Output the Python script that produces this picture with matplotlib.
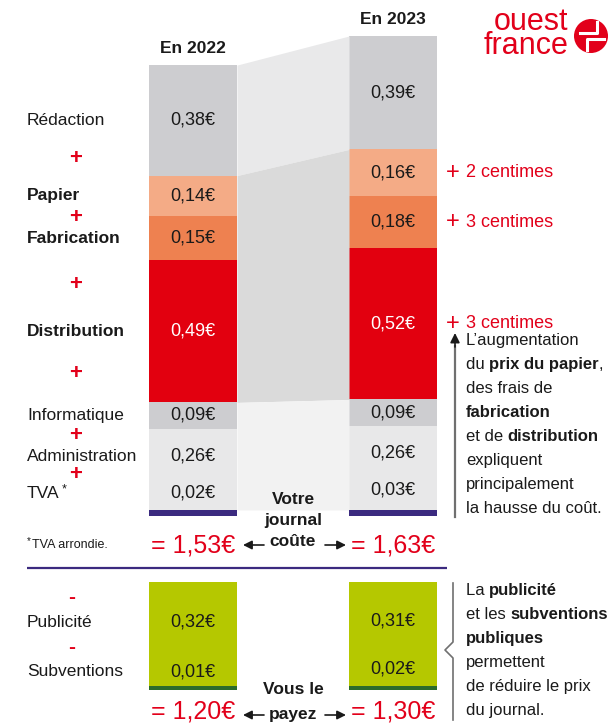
import matplotlib

matplotlib.use("Agg")

import matplotlib.pyplot as plt  # noqa: E402
import numpy as np  # noqa: E402
from matplotlib.patches import Circle  # noqa: E402
from matplotlib.transforms import blended_transform_factory  # noqa: E402

plt.rcParams["font.family"] = ["Liberation Sans", "DejaVu Sans"]

# --- data (top of the stack first) ---
YEARS = ["En 2022", "En 2023"]
POSTES = ["Rédaction", "Papier", "Fabrication", "Distribution",
          "Informatique", "Administration", "TVA"]
COUT_2022 = [0.38, 0.14, 0.15, 0.49, 0.09, 0.26, 0.02]
COUT_2023 = [0.39, 0.16, 0.18, 0.52, 0.09, 0.26, 0.03]
RECETTES = ["Publicité", "Subventions"]
REC_2022 = [0.32, 0.01]
REC_2023 = [0.31, 0.02]
HAUSSE_POSTES = ["Papier", "Fabrication", "Distribution"]

# --- palette ---
RED = "#e2001a"
INK = "#1a1a1a"
PURPLE = "#3b2a7f"
GREEN = "#b5c800"
GREEN_DARK = "#2b6b2b"
LINE_GRAY = "#707070"
POSTE_COLORS = ["#cdcdd0", "#f4ab86", "#ee8150", "#e2000f",
                "#cdcdd0", "#e8e8e9", "#e8e8e9"]

W, H = 608, 725
fig = plt.figure(figsize=(W / 100, H / 100), dpi=100)
renderer = fig.canvas.get_renderer()


def full_axes():
    ax = fig.add_axes([0, 0, 1, 1])
    ax.set_axis_off()
    ax.patch.set_alpha(0)
    return ax


def fmt(v):
    return f"{v:.2f}€".replace(".", ",")


# overlay in pixel units (y down) for annotations, drawn above the bars
ax_txt = full_axes()
ax_txt.set_xlim(0, W)
ax_txt.set_ylim(H, 0)
ax_txt.set_zorder(5)


def text_width(s, **kw):
    t = ax_txt.text(0, 0, "|" + s + "|", **kw)
    w1 = t.get_window_extent(renderer).width
    t.remove()
    t = ax_txt.text(0, 0, "||", **kw)
    w2 = t.get_window_extent(renderer).width
    t.remove()
    return w1 - w2


def rich(x, y, parts, size=12, color=INK):
    base = y + 0.36 * size * 100 / 72
    for s, bold in parts:
        kw = dict(fontsize=size, fontweight="bold" if bold else "normal", color=color)
        ax_txt.text(x, base, s, ha="left", va="baseline", **kw)
        x += text_width(s, **kw)


def stack(ax, data, colors, scale, value_color):
    """Stack columns of data bottom-up (last column first), return label y and tops."""
    n = data.shape[1]
    tops = np.zeros((n, data.shape[0]))
    label_y = np.zeros((n, data.shape[0]))
    bottom = np.zeros(data.shape[0])
    floor = np.zeros(data.shape[0])
    for i in reversed(range(n)):
        vals = data[:, i]
        ax.bar(xs, vals, width=BAR_W, bottom=bottom, color=colors[i], linewidth=0)
        small = vals < 0.05
        lo = np.maximum(bottom, floor)
        ly = np.where(small, bottom + vals + 11 / scale, (lo + bottom + vals) / 2)
        for x, v, y in zip(xs, vals, ly):
            ax.text(x, y, fmt(v), ha="center", va="center", fontsize=13,
                    color=value_color(i))
        floor = np.where(small, ly + 9 / scale, 0)
        label_y[i] = ly
        bottom = bottom + vals
        tops[i] = bottom
    return label_y, tops


# bar geometry (px)
BAR_X0, BAR_DX, BAR_W = 193, 200, 0.44
xs = np.arange(len(YEARS))

# ---------------- top: cost of one paper ----------------
costs = np.array([COUT_2022, COUT_2023])
totals = costs.sum(axis=1)
ax_top = full_axes()
ax_top.set_xlim(-BAR_X0 / BAR_DX, (W - BAR_X0) / BAR_DX)
BASE_PX, TOP_PX = 510, 36
k = (BASE_PX - TOP_PX) / totals.max()
ax_top.set_ylim((BASE_PX - H) / k, BASE_PX / k)

label_y, tops = stack(ax_top, costs, POSTE_COLORS, k,
                      lambda i: "white" if POSTES[i] == "Distribution" else INK)

# connecting bands between the two bars
xb = [xs[0] + BAR_W / 2, xs[1] - BAR_W / 2]
i_pap, i_inf = POSTES.index("Papier"), POSTES.index("Informatique")
ax_top.fill_between(xb, tops[i_pap], tops[0], color="#e9e9ea", lw=0)
ax_top.fill_between(xb, tops[i_inf], tops[i_pap], color="#dadada", lw=0)
ax_top.fill_between(xb, 0, tops[i_inf], color="#f2f2f2", lw=0)

# purple base stripe
ax_top.bar(xs, 6 / k, bottom=-6 / k, width=BAR_W, color=PURPLE, linewidth=0)

for x, t, lab in zip(xs, totals, YEARS):
    ax_top.text(x, t + 17 / k, lab, ha="center", va="center", fontsize=12.5,
                fontweight="bold", color=INK)

# left labels aligned on the 2022 values
lab_tr = blended_transform_factory(ax_txt.transData, ax_top.transData)
for i, p in enumerate(POSTES):
    bold = p in HAUSSE_POSTES
    ax_top.text(27, label_y[i, 0], p, transform=lab_tr, ha="left", va="center",
                fontsize=12.5, fontweight="bold" if bold else "normal", color=INK)
    if p == "TVA":
        w = text_width(p, fontsize=12.5)
        ax_top.text(27 + w + 2, label_y[i, 0] + 4 / k, "*", transform=lab_tr,
                    ha="left", va="center", fontsize=9, color=INK)
    if i < len(POSTES) - 1:
        ax_top.text(76, (label_y[i, 0] + label_y[i + 1, 0]) / 2, "+", transform=lab_tr,
                    ha="center", va="center", fontsize=16, fontweight="bold", color=RED)

# increases on the right of 2023
for p in HAUSSE_POSTES:
    i = POSTES.index(p)
    d = int(round((costs[1, i] - costs[0, i]) * 100))
    ax_top.text(446, label_y[i, 1], "+", transform=lab_tr, ha="left", va="center",
                fontsize=17, color=RED)
    ax_top.text(466, label_y[i, 1], f"{d} centimes", transform=lab_tr, ha="left",
                va="center", fontsize=13, color=RED)

# totals row
tot_tr = blended_transform_factory(ax_top.transData, ax_txt.transData)
for x, t in zip(xs, totals):
    ax_top.text(x, 553, "= " + fmt(t), transform=tot_tr, ha="center", va="baseline",
                fontsize=18, color=RED)

# ---------------- bottom: what you pay ----------------
rec = np.array([REC_2022, REC_2023])
rec_tot = rec.sum(axis=1)
ax_bot = full_axes()
ax_bot.set_xlim(-BAR_X0 / BAR_DX, (W - BAR_X0) / BAR_DX)
BASE2_PX, TOP2_PX = 686, 582
k2 = (BASE2_PX - TOP2_PX) / rec_tot.max()
ax_bot.set_ylim((BASE2_PX - H) / k2, BASE2_PX / k2)

rec_ly, _ = stack(ax_bot, rec, [GREEN] * len(RECETTES), k2, lambda i: INK)
ax_bot.bar(xs, 4 / k2, bottom=-4 / k2, width=BAR_W, color=GREEN_DARK, linewidth=0)

lab_tr2 = blended_transform_factory(ax_txt.transData, ax_bot.transData)
for i, r in enumerate(RECETTES):
    ax_bot.text(27, rec_ly[i, 0], r, transform=lab_tr2, ha="left", va="center",
                fontsize=12.5, color=INK)
    y_minus = rec_ly[0, 0] + 25 / k2 if i == 0 else (rec_ly[i - 1, 0] + rec_ly[i, 0]) / 2
    ax_bot.text(72, y_minus, "-", transform=lab_tr2, ha="center", va="center",
                fontsize=15, fontweight="bold", color=RED)

paid = totals - rec_tot
tot_tr2 = blended_transform_factory(ax_bot.transData, ax_txt.transData)
for x, t in zip(xs, paid):
    ax_bot.text(x, 719, "= " + fmt(t), transform=tot_tr2, ha="center", va="baseline",
                fontsize=18, color=RED)

# ---------------- annotations ----------------
ax_txt.text(27, 541, "*", fontsize=7, color=INK, ha="left", va="center")
ax_txt.text(32, 545, "TVA arrondie.", fontsize=9, color=INK, ha="left", va="center")
ax_txt.plot([27, 447], [568, 568], color=PURPLE, lw=1.6, solid_capstyle="butt")

for j, s in enumerate(["Votre", "journal", "coûte"]):
    ax_txt.text(293, 499 + 21 * j, s, ha="center", va="center",
                fontsize=12.5, fontweight="bold", color=INK)
for j, s in enumerate(["Vous le", "payez"]):
    ax_txt.text(293, 689 + 26 * j, s, ha="center", va="center",
                fontsize=12.5, fontweight="bold", color=INK)

arrow = dict(arrowstyle="-|>", color=INK, lw=1.2, mutation_scale=13, shrinkA=0, shrinkB=0)
for y in (545, 715):
    ax_txt.annotate("", xy=(243, y), xytext=(264, y), arrowprops=arrow)
    ax_txt.annotate("", xy=(346, y), xytext=(325, y), arrowprops=arrow)

# explanation, upper block
ax_txt.plot([455, 455], [346, 517], color=LINE_GRAY, lw=1.6)
ax_txt.annotate("", xy=(455, 333), xytext=(455, 347),
                arrowprops=dict(arrowstyle="-|>", color=INK, lw=1.2, mutation_scale=14,
                                shrinkA=0, shrinkB=0))
note1 = [
    [("L’augmentation", False)],
    [("du ", False), ("prix du papier", True), (",", False)],
    [("des frais de", False)],
    [("fabrication", True)],
    [("et de ", False), ("distribution", True)],
    [("expliquent", False)],
    [("principalement", False)],
    [("la hausse du coût.", False)],
]
for j, parts in enumerate(note1):
    rich(466, 339 + 24 * j, parts, size=12)

# explanation, lower block with bracket
ax_txt.plot([453, 453, 445, 453, 453], [583, 642, 650, 658, 720], color=LINE_GRAY, lw=1.2)
note2 = [
    [("La ", False), ("publicité", True)],
    [("et les ", False), ("subventions", True)],
    [("publiques", True)],
    [("permettent", False)],
    [("de réduire le prix", False)],
    [("du journal.", False)],
]
for j, parts in enumerate(note2):
    rich(466, 589 + 24 * j, parts, size=12)

# logo
ax_txt.text(568, 34, "ouest\nfrance", ha="right", va="center", ma="right",
            linespacing=0.72, fontsize=22, color=RED)
ax_txt.add_patch(Circle((591, 36), 17, color=RED, lw=0))
ax_txt.plot([580, 597, 597], [33, 33, 22], color="white", lw=2.2)
ax_txt.plot([604, 587, 587], [39, 39, 50], color="white", lw=2.2)

fig.savefig("out.png", dpi=100, facecolor="white")
